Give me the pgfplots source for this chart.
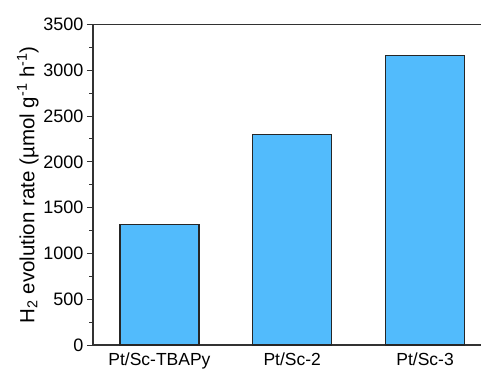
\documentclass[border=0pt]{standalone}
\usepackage{fontspec}
\setmainfont{Liberation Sans}
\usepackage{pgfplots}
\pgfplotsset{compat=1.18}
\definecolor{barblue}{RGB}{82,187,252}
\definecolor{axisgray}{RGB}{50,50,50}
\begin{document}
\begin{tikzpicture}
\clip (-93pt,-23pt) rectangle (388pt,345pt);
\begin{axis}[
  at={(0,0)}, anchor=south west,
  scale only axis,
  width=398.5pt, height=320.5pt,
  xmin=-0.5, xmax=2.5,
  ymin=0, ymax=3500,
  xtick={0,1,2},
  xticklabels={Pt/Sc-TBAPy, Pt/Sc-2, Pt/Sc-3},
  major x tick style={draw=none},
  xticklabel style={yshift=2pt, font=\fontsize{17.5}{20}\selectfont},
  ytick={0,500,...,3500},
  minor y tick num=1,
  ytick pos=left,
  tick align=outside,
  major tick length=6pt,
  minor tick length=3.5pt,
  axis line style={axisgray, line width=1.3pt},
  every tick/.style={axisgray, line width=1pt},
  /pgf/number format/assume math mode=true,
  scaled y ticks=false,
  yticklabel style={/pgf/number format/1000 sep={}, font=\fontsize{18}{20}\selectfont},
  ylabel={H\textsubscript{2} evolution rate (µmol g\textsuperscript{-1} h\textsuperscript{-1})},
  ylabel style={font=\fontsize{20.5}{24}\selectfont, yshift=-2pt},
  ybar, bar width=79pt,
]
\addplot[fill=barblue, draw=black!85, line width=1.2pt] coordinates {(0,1320) (1,2300) (2,3160)};
\end{axis}
\end{tikzpicture}
\end{document}
